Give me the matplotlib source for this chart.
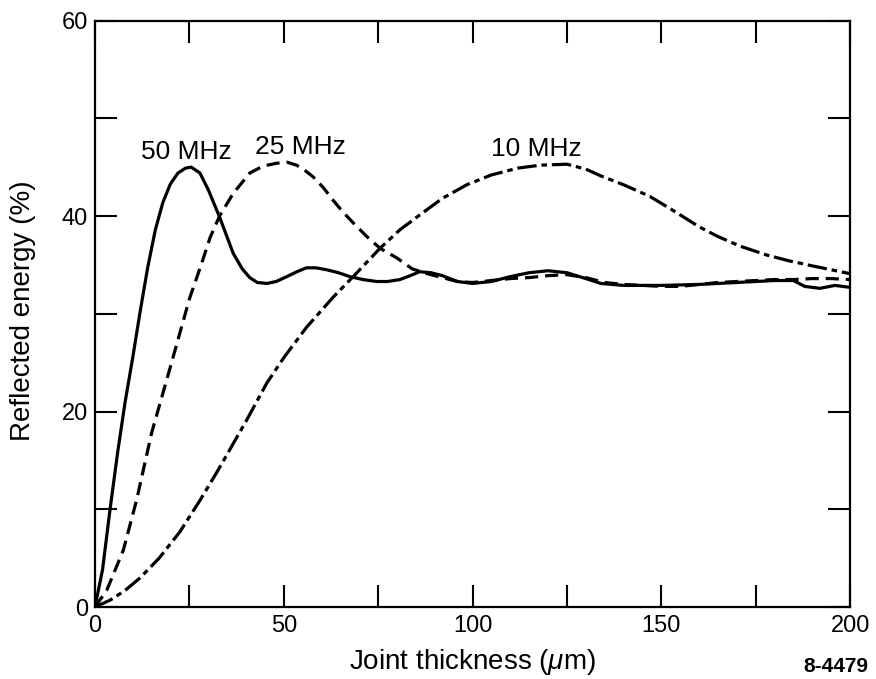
import matplotlib.pyplot as plt

plt.rcParams['font.family'] = ['Liberation Sans', 'DejaVu Sans']
plt.rcParams['mathtext.fontset'] = 'custom'
plt.rcParams['mathtext.rm'] = 'Liberation Sans'
plt.rcParams['mathtext.it'] = 'Liberation Sans:italic'
plt.rcParams['lines.scale_dashes'] = False

# 50 MHz curve (solid)
x50 = [0, 2, 4, 6, 8, 10, 12, 14, 16, 18, 20, 22, 24, 25.5, 27.8, 30, 33, 36.6,
       39, 41, 43, 45.5, 48, 50.8, 53.5, 56, 58.5, 61.4, 64.5, 67.5, 71, 74.6,
       77.5, 80.8, 83.5, 86, 89, 92, 96, 100, 105, 110, 115, 120, 125, 130, 134,
       140, 145, 150, 160, 170, 180, 185, 188, 192, 196, 200]
y50 = [0, 3.8, 10, 15.8, 21, 25.5, 30.3, 34.8, 38.6, 41.4, 43.3, 44.4, 44.9, 45.0,
       44.4, 42.7, 39.9, 36.2, 34.6, 33.7, 33.2, 33.1, 33.3, 33.8, 34.3, 34.7,
       34.7, 34.5, 34.2, 33.8, 33.5, 33.3, 33.3, 33.5, 33.9, 34.3, 34.2, 33.9,
       33.3, 33.1, 33.3, 33.8, 34.2, 34.4, 34.2, 33.6, 33.1, 32.9, 32.9, 32.9,
       33.0, 33.2, 33.4, 33.4, 32.8, 32.6, 32.9, 32.7]

# 25 MHz curve (dashed)
x25 = [0, 3.1, 7.5, 11, 15, 20, 25, 28.3, 30.5, 33, 36.6, 41, 44.5, 48.1, 50.9,
       53.4, 55.5, 57.8, 60.5, 63.1, 65.7, 68.4, 72, 75.5, 80, 84, 88, 92, 96, 100,
       105, 110, 115, 120, 125, 130, 135, 140, 145, 150, 155, 160, 165, 170, 175,
       180, 185, 190, 195, 200]
y25 = [0, 1.7, 5.8, 10.9, 17.8, 24.6, 31.5, 35.2, 37.8, 40.0, 42.3, 44.4, 45.1,
       45.4, 45.5, 45.2, 44.7, 44.0, 42.9, 41.6, 40.4, 39.3, 37.9, 36.7, 35.7,
       34.6, 34.1, 33.7, 33.3, 33.2, 33.4, 33.6, 33.7, 33.9, 34.0, 33.7, 33.2,
       33.0, 32.9, 32.8, 32.8, 33.0, 33.2, 33.3, 33.4, 33.5, 33.5, 33.6, 33.6, 33.5]

# 10 MHz curve (dash-dot)
x10 = [0, 4, 8, 12, 17, 22.5, 27.8, 32.6, 36, 40, 45.5, 50, 56, 63.1, 68.4,
       75.5, 80.8, 86, 92, 98.5, 105, 112, 118, 125, 130, 134, 140, 147, 153, 160,
       165, 171, 178, 184, 190, 195, 200]
y10 = [0, 0.7, 1.7, 3.0, 5.0, 7.7, 10.9, 14.0, 16.3, 19.0, 22.9, 25.5, 28.6, 31.7,
       33.8, 36.7, 38.6, 40.1, 41.8, 43.2, 44.2, 44.9, 45.2, 45.3, 44.8, 44.1,
       43.2, 42.0, 40.6, 38.9, 37.9, 36.9, 36.0, 35.4, 34.9, 34.5, 34.1]

fig = plt.figure(figsize=(8.76, 6.79), dpi=100)
ax = fig.add_axes([0.1084, 0.106, 0.862, 0.8638])

ax.plot(x50, y50, color='black', lw=2.3, solid_capstyle='round')
ax.plot(x25, y25, color='black', lw=2.3, dashes=(9.5, 5))
ax.plot(x10, y10, color='black', lw=2.3, dashes=(14, 3.5, 4, 3.5))

ax.text(24.2, 45.8, '50 MHz', fontsize=19, ha='center', va='baseline')
ax.text(54.3, 46.3, '25 MHz', fontsize=19, ha='center', va='baseline')
ax.text(117, 46.1, '10 MHz', fontsize=19, ha='center', va='baseline')

ax.set_xlim(0, 200)
ax.set_ylim(0, 60)
ax.set_xticks([0, 50, 100, 150, 200])
ax.set_xticks([25, 75, 125, 175], minor=True)
ax.set_yticks([0, 20, 40, 60])
ax.set_yticks([10, 30, 50], minor=True)
ax.tick_params(which='both', direction='in', top=True, right=True,
               length=16, width=1.5, labelsize=17)
ax.tick_params(axis='x', which='both', pad=6)
ax.tick_params(axis='y', which='both', pad=5)
for s in ax.spines.values():
    s.set_linewidth(1.6)

ax.set_xlabel(r'Joint thickness ($\mu$m)', fontsize=20)
ax.set_ylabel('Reflected energy (%)', fontsize=20)
ax.xaxis.set_label_coords(0.5, -0.068)
ax.yaxis.set_label_coords(-0.078, 0.505)

fig.text(0.991, 0.0177, '8-4479', fontsize=15, fontweight='bold', ha='right', va='center')

fig.savefig('out.png', dpi=100)
